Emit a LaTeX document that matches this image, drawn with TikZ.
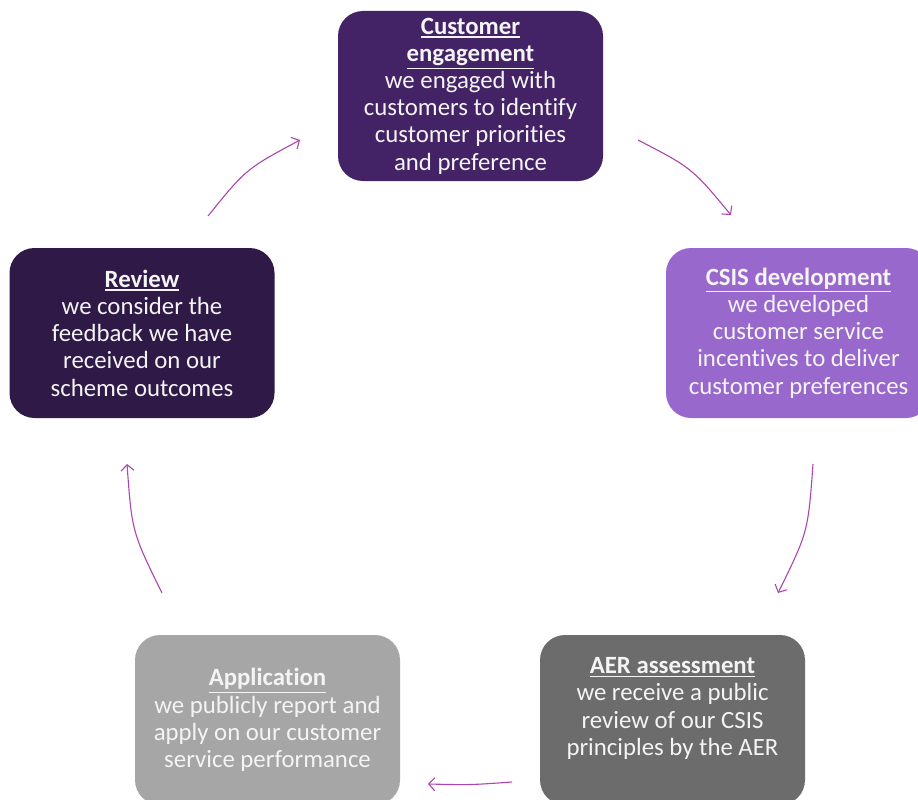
\documentclass[tikz,border=0pt]{standalone}
\usepackage{fontspec}
\setmainfont{Carlito}[Ligatures=NoCommon]
\usetikzlibrary{arrows.meta}
\definecolor{cengage}{RGB}{67,35,102}
\definecolor{ccsis}{RGB}{153,104,204}
\definecolor{creview}{RGB}{46,25,71}
\definecolor{caer}{RGB}{108,108,108}
\definecolor{capp}{RGB}{166,166,166}
\definecolor{carrow}{RGB}{172,70,172}
\definecolor{ctext}{RGB}{244,244,244}
\newcommand\hdline[1]{\setbox0=\hbox{\bfseries #1}\leavevmode\rlap{\rule[-\dimexpr\dp0+3.2pt\relax]{\wd0}{1.2pt}}\box0}
\begin{document}
\begin{tikzpicture}[x=1pt,y=-1pt,
  stagebox/.style={rounded corners=25pt, minimum width=265pt, minimum height=170pt,
    inner sep=0pt, align=center, text=ctext,
    font=\fontsize{24.8}{27.2}\selectfont},
  cyc/.style={draw=carrow, line width=1.1pt, -{Straight Barb[length=6pt,width=13pt,line width=1.1pt]}}]
\useasboundingbox (0,0) rectangle (918,800);
\fill[white] (0,0) rectangle (918,800);
\clip (0,0) rectangle (918,800);
\node[stagebox, fill=cengage] (engage) at (470.5,96)
  {\hdline{Customer}\\ \hdline{engagement}\\ we engaged with\\ customers to identify\\ customer priorities\\ and preference};
\node[stagebox, fill=ccsis] (csis) at (798.5,333)
  {\hdline{CSIS development}\\ we developed\\ customer service\\ incentives to deliver\\ customer preferences};
\node[stagebox, fill=creview] (review) at (142,333)
  {\hdline{Review}\\ we consider the\\ feedback we have\\ received on our\\ scheme outcomes};
\node[stagebox, fill=caer] (aer) at (672.5,720)
  {\hdline{AER assessment}\\ we receive a public\\ review of our CSIS\\ principles by the AER\\ \mbox{}};
\node[stagebox, fill=capp] (app) at (267.5,720)
  {\hdline{Application}\\ we publicly report and\\ apply on our customer\\ service performance};
% arrow end points
\coordinate (a1s) at (638,140); \coordinate (a1e) at (731,215);
\coordinate (a2s) at (813,464); \coordinate (a2e) at (778,593);
\coordinate (a3s) at (512,782); \coordinate (a3e) at (428,784);
\coordinate (a4s) at (162,593); \coordinate (a4e) at (127,464);
\coordinate (a5s) at (208,216); \coordinate (a5e) at (300,140);
\draw[cyc] (a1s) .. controls (692,168) .. (a1e);
\draw[cyc] (a2s) .. controls (808,532) .. (a2e);
\draw[cyc] (a3s) .. controls (470,785) .. (a3e);
\draw[cyc] (a4s) .. controls (132,532) .. (a4e);
\draw[cyc] (a5s) .. controls (246,169) .. (a5e);
\end{tikzpicture}
\end{document}
